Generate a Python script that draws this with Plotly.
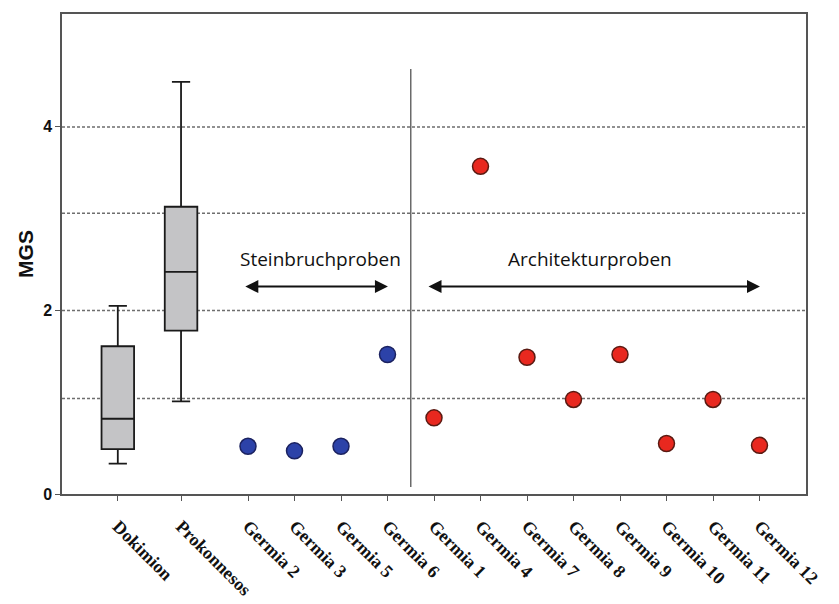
import plotly.graph_objects as go

# ---- data ----
categories = ["Dokimion", "Prokonnesos", "Germia 2", "Germia 3", "Germia 5", "Germia 6",
              "Germia 1", "Germia 4", "Germia 7", "Germia 8", "Germia 9", "Germia 10",
              "Germia 11", "Germia 12"]
cat_pos = [0.2, 1.56, 3, 4, 5, 6, 7, 8, 9, 10, 11, 12, 13, 14]

box_names = ["Dokimion", "Prokonnesos"]
box_lower = [0.33, 1.01]
box_q1 = [0.49, 1.78]
box_median = [0.82, 2.42]
box_q3 = [1.61, 3.13]
box_upper = [2.05, 4.49]

quarry_names = ["Germia 2", "Germia 3", "Germia 5", "Germia 6"]
quarry_mgs = [0.52, 0.47, 0.52, 1.52]

arch_names = ["Germia 1", "Germia 4", "Germia 7", "Germia 8", "Germia 9",
              "Germia 10", "Germia 11", "Germia 12"]
arch_mgs = [0.83, 3.57, 1.49, 1.03, 1.52, 0.55, 1.03, 0.53]

grid_levels = [1.04, 2.0, 3.06, 4.0]
y_ticks = [0, 2, 4]

pos = dict(zip(categories, cat_pos))

fig = go.Figure()

fig.add_trace(go.Box(
    x=[pos[n] for n in box_names],
    q1=box_q1, median=box_median, q3=box_q3,
    lowerfence=box_lower, upperfence=box_upper,
    width=0.7, whiskerwidth=0.56,
    fillcolor="#c4c4c6", line=dict(color="#1a1a1a", width=1.8),
    boxpoints=False, showlegend=False, hoverinfo="skip",
))

fig.add_trace(go.Scatter(
    x=[pos[n] for n in quarry_names], y=quarry_mgs, mode="markers",
    marker=dict(size=16, color="#2c42a8", line=dict(color="#1b2260", width=1.5)),
    showlegend=False,
))
fig.add_trace(go.Scatter(
    x=[pos[n] for n in arch_names], y=arch_mgs, mode="markers",
    marker=dict(size=16, color="#e8281f", line=dict(color="#5a1a12", width=1.5)),
    showlegend=False,
))

shapes = []
for g in grid_levels:
    shapes.append(dict(type="line", xref="paper", yref="y", x0=0, x1=1, y0=g, y1=g,
                       line=dict(color="#6e6e6e", width=1.5, dash="3px,2px"), layer="below"))
shapes.append(dict(type="line", xref="x", yref="y", x0=6.5, x1=6.5, y0=0.076, y1=4.63,
                   line=dict(color="#6a6a6a", width=1.5)))

annotations = [
    dict(x=6.01, y=2.26, ax=2.91, ay=2.26, xref="x", yref="y", axref="x", ayref="y",
         text="", showarrow=True, arrowhead=2, arrowside="end+start", arrowsize=1.3,
         arrowwidth=2, arrowcolor="#111111"),
    dict(x=14.01, y=2.26, ax=6.85, ay=2.26, xref="x", yref="y", axref="x", ayref="y",
         text="", showarrow=True, arrowhead=2, arrowside="end+start", arrowsize=1.3,
         arrowwidth=2, arrowcolor="#111111"),
    dict(x=4.55, y=2.56, xref="x", yref="y", text="Steinbruchproben", showarrow=False,
         font=dict(family="Open Sans", size=19, color="#111111")),
    dict(x=10.35, y=2.56, xref="x", yref="y", text="Architekturproben", showarrow=False,
         font=dict(family="Open Sans", size=19, color="#111111")),
]

fig.update_layout(
    width=839, height=604,
    margin=dict(l=54, r=41, t=4, b=118),
    paper_bgcolor="white", plot_bgcolor="white",
    shapes=shapes, annotations=annotations,
    showlegend=False,
)
fig.update_xaxes(
    range=[-1, 15], tickmode="array", tickvals=cat_pos, ticktext=categories,
    tickangle=45, ticks="outside", ticklen=5, tickcolor="#555555",
    tickfont=dict(family="Liberation Serif", size=18, color="#111111", weight="bold"),
    showline=True, linecolor="#555555", linewidth=1.5, mirror=True,
    showgrid=False, zeroline=False, ticklabelstandoff=8,
)
fig.update_yaxes(
    range=[0, 5.23], tickmode="array", tickvals=y_ticks,
    ticks="outside", ticklen=5, tickcolor="#555555",
    tickfont=dict(family="Liberation Sans", size=16, color="#111111", weight="bold"),
    showline=True, linecolor="#555555", linewidth=1.5, mirror=True,
    showgrid=False, zeroline=False,
    title=dict(text="MGS", font=dict(family="Liberation Sans", size=21, color="#111111", weight="bold"),
               standoff=4),
)

fig.write_html("out.html")
